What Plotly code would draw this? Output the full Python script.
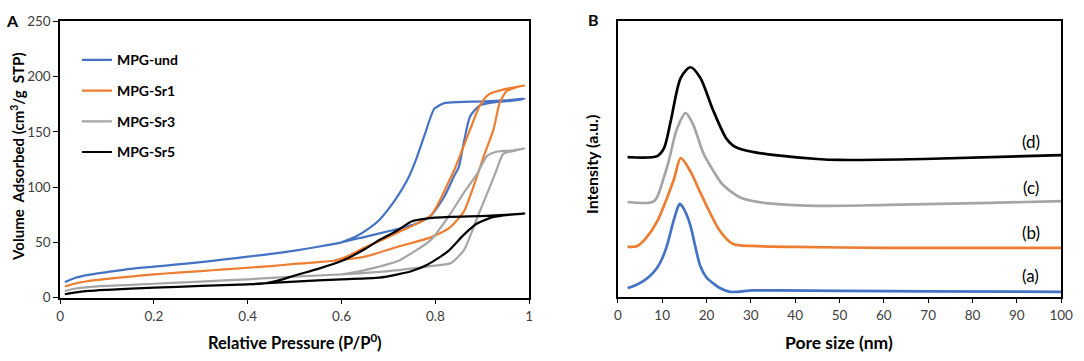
import plotly.graph_objects as go

# ---------------- Panel A: N2 isotherms (adsorption branch then desorption branch) ----------------
und_p = [0.01, 0.03, 0.06, 0.1, 0.15, 0.2, 0.25, 0.3, 0.35, 0.4, 0.45, 0.5, 0.55, 0.6, 0.65, 0.7,
         0.72, 0.76, 0.79, 0.82, 0.84, 0.85, 0.861, 0.874, 0.895, 0.93, 0.96, 0.99,
         0.95, 0.9, 0.85, 0.819, 0.798, 0.777, 0.758, 0.742, 0.72, 0.7, 0.68, 0.66, 0.63, 0.6]
und_v = [14, 17.5, 20.5, 23, 26, 28, 30, 32, 34.5, 37, 39.5, 42.5, 46, 50, 55, 60,
         62, 67, 74, 92, 110, 118, 141, 164, 174, 177, 178, 180,
         178.5, 177.5, 177, 176, 171, 147, 124, 108, 92, 80, 70, 63, 55, 50]

sr1_p = [0.01, 0.03, 0.06, 0.1, 0.15, 0.2, 0.25, 0.3, 0.35, 0.4, 0.45, 0.5, 0.55, 0.6, 0.65, 0.72,
         0.79, 0.83, 0.861, 0.889, 0.905, 0.924, 0.937, 0.952, 0.97, 0.99,
         0.952, 0.914, 0.895, 0.874, 0.84, 0.832, 0.79, 0.72, 0.68, 0.643, 0.61, 0.58]
sr1_v = [10, 12.5, 15, 17, 19, 21, 22.5, 24, 25.5, 27, 28.5, 30.5, 32, 34, 37, 46,
         54.5, 63, 78, 110, 130, 152, 176, 187, 190, 192,
         189, 184, 174, 152, 115, 108, 74, 59, 51, 44, 37, 33]

sr3_p = [0.01, 0.03, 0.06, 0.1, 0.2, 0.3, 0.4, 0.5, 0.6, 0.7, 0.79, 0.832, 0.861, 0.889, 0.916,
         0.93, 0.945, 0.97, 0.99,
         0.96, 0.93, 0.91, 0.889, 0.861, 0.826, 0.79, 0.72, 0.68, 0.64, 0.6]
sr3_v = [6, 8, 9.5, 10.5, 12.5, 14.5, 16.5, 19, 21, 24, 28.5, 31, 43, 72, 100,
         115, 130, 133, 135,
         133, 132, 128, 112, 95, 72, 52, 33, 28, 24, 21]

sr5_p = [0.01, 0.03, 0.06, 0.1, 0.2, 0.3, 0.4, 0.5, 0.6, 0.68, 0.72, 0.75, 0.784, 0.826, 0.861,
         0.889, 0.924, 0.96, 0.99,
         0.91, 0.83, 0.78, 0.75, 0.72, 0.68, 0.65, 0.6, 0.55, 0.5, 0.47, 0.44, 0.41]
sr5_v = [3, 4.5, 6, 7, 9, 10.5, 12, 14.5, 16.5, 18, 21, 24, 30, 41.5, 57,
         67, 73, 75, 76,
         74, 73, 71.5, 69, 61, 52, 44, 33, 26, 20, 16, 13, 12]

iso_names = ["MPG-und", "MPG-Sr1", "MPG-Sr3", "MPG-Sr5"]
iso_x = [und_p, sr1_p, sr3_p, sr5_p]
iso_y = [und_v, sr1_v, sr3_v, sr5_v]
colors = ["#4472C4", "#ED7D31", "#A5A5A5", "#000000"]

# ---------------- Panel B: pore size distributions (offset, arbitrary units) ----------------
a_x = [2.2, 4, 6, 8, 9.5, 11, 12.5, 13.5, 14, 14.6, 15.5, 16.4, 17.5, 18.6, 20, 21.5, 23, 25.3,
       27, 30.4, 35, 50, 70, 100]
a_y = [9, 12, 17, 25, 35, 52, 78, 93, 97, 94, 86, 74, 52, 32, 20, 14, 9, 5,
       5, 6.5, 6.5, 6, 5.5, 5]
b_x = [2.2, 4.4, 6.5, 8.9, 12.6, 14.2, 16.5, 18.6, 23, 26, 30.4, 40, 60, 80, 100]
b_y = [52, 53, 62, 79, 122, 145, 130, 109, 69, 55, 53, 52, 51, 51, 51]
c_x = [2.2, 8.2, 10.4, 11.5, 13.3, 15.3, 17, 19.3, 21.5, 23.7, 27.5, 30.4, 35.5, 45, 61, 84, 100]
c_y = [99, 100, 125, 142, 175, 192, 180, 150, 132, 117, 104, 100, 97, 95, 96, 98, 100]
d_x = [2.2, 8.9, 10.4, 12, 14.2, 16.4, 18.6, 21.5, 24.4, 26, 28, 31, 35.5, 45, 50, 69, 100]
d_y = [146, 147, 155, 185, 229, 240, 229, 195, 166, 158, 154, 151, 148, 144, 143, 144, 148]
psd_x = [a_x, b_x, c_x, d_x]
psd_y = [a_y, b_y, c_y, d_y]
psd_labels = ["(a)", "(b)", "(c)", "(d)"]

fig = go.Figure()
for i in range(4):
    fig.add_trace(go.Scatter(x=iso_x[i], y=iso_y[i], mode="lines", name=iso_names[i],
                             line=dict(color=colors[i], width=2.2, shape="spline", smoothing=0.6),
                             legendgroup=iso_names[i], xaxis="x", yaxis="y"))
for i in range(4):
    fig.add_trace(go.Scatter(x=psd_x[i], y=psd_y[i], mode="lines", showlegend=False,
                             line=dict(color=colors[i], width=2.7, shape="spline", smoothing=0.8),
                             xaxis="x2", yaxis="y2"))

W, H = 1084, 361
def px(x):
    return x / W
def py(y):
    return 1 - y / H

FONT = "Lato"
tickfont = dict(family=FONT, size=13.5, color="#404040")
axline = dict(showline=True, linecolor="#000000", linewidth=1.6, mirror=True, showgrid=False,
              zeroline=False)

fig.update_layout(
    width=W, height=H, margin=dict(l=0, r=0, t=0, b=0),
    paper_bgcolor="white", plot_bgcolor="white",
    font=dict(family=FONT, color="#000000"),
    xaxis=dict(domain=[px(57), px(533)], range=[0, 1], tickvals=[0, 0.2, 0.4, 0.6, 0.8, 1],
               ticktext=["0", "0.2", "0.4", "0.6", "0.8", "1"], ticks="outside", ticklen=5,
               tickcolor="#000000", tickwidth=1.3, tickfont=tickfont, anchor="y", **axline),
    yaxis=dict(domain=[py(303), py(14)], range=[0, 250], tickvals=[0, 50, 100, 150, 200, 250],
               ticks="outside", ticklen=5, tickcolor="#000000", tickwidth=1.3, tickfont=tickfont,
               anchor="x", **axline),
    xaxis2=dict(domain=[px(623), px(1073)], range=[0, 100], tickvals=list(range(0, 101, 10)),
                ticks="outside", ticklen=5, tickcolor="#000000", tickwidth=1.3, tickfont=tickfont,
                anchor="y2", **axline),
    yaxis2=dict(domain=[py(302), py(14)], range=[0, 288], showticklabels=False, ticks="",
                anchor="x2", **axline),
    legend=dict(x=px(74), y=py(38), xanchor="left", yanchor="top", bgcolor="rgba(0,0,0,0)",
                font=dict(family=FONT, size=14, color="#000000", weight="bold"),
                traceorder="grouped", tracegroupgap=9.5, itemwidth=30),
    showlegend=True,
)

ann = []
def bold(s):
    return dict(family=FONT, size=s, color="#000000", weight="bold")
ann.append(dict(text="Volume  Adsorbed (cm<sup>3</sup>/g  STP)", x=px(13), y=py(156), xref="paper",
                yref="paper", textangle=-90, showarrow=False, font=bold(15), xanchor="center",
                yanchor="middle"))
ann.append(dict(text="Relative Pressure (P/P<sup>0</sup>)", x=px(295), y=py(350), xref="paper",
                yref="paper", showarrow=False, font=bold(16.5), xanchor="center", yanchor="middle"))
ann.append(dict(text="Intensity (a.u.)", x=px(597), y=py(164), xref="paper", yref="paper",
                textangle=-90, showarrow=False, font=bold(16), xanchor="center", yanchor="middle"))
ann.append(dict(text="Pore size (nm)", x=px(848), y=py(350), xref="paper", yref="paper",
                showarrow=False, font=bold(17.5), xanchor="center", yanchor="middle"))
ann.append(dict(text="A", x=px(9), y=py(13), xref="paper", yref="paper", showarrow=False,
                font=bold(16), xanchor="center", yanchor="middle"))
ann.append(dict(text="B", x=px(598), y=py(12), xref="paper", yref="paper", showarrow=False,
                font=bold(16), xanchor="center", yanchor="middle"))
label_y = [280, 235, 188, 140]
for lab, ly in zip(psd_labels, label_y):
    ann.append(dict(text=lab, x=px(1042), y=py(ly), xref="paper", yref="paper", showarrow=False,
                    font=dict(family=FONT, size=17, color="#000000"), xanchor="center",
                    yanchor="middle"))
fig.update_layout(annotations=ann)

fig.write_html("out.html", config={"displayModeBar": False},
               post_script="document.body.style.margin='0';"
                           "document.documentElement.style.overflow='hidden';")
